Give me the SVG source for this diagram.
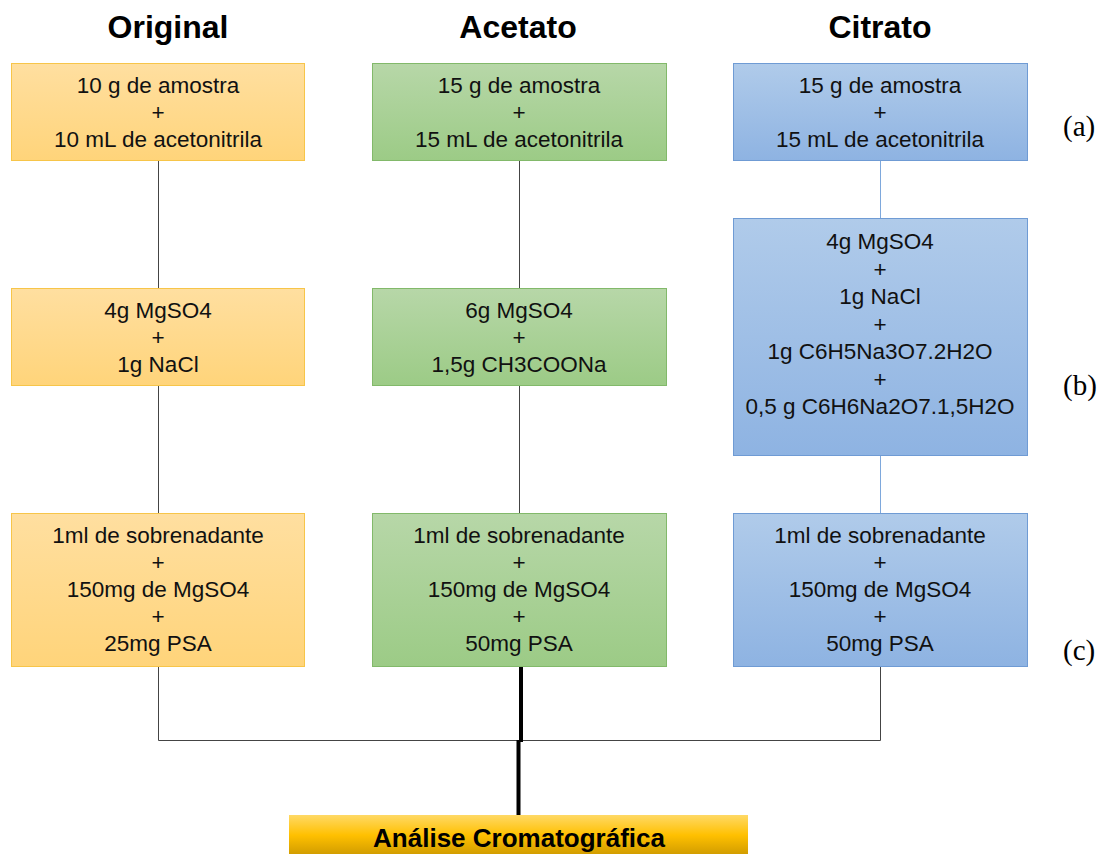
<svg xmlns="http://www.w3.org/2000/svg" width="1106" height="854" viewBox="0 0 1106 854">
<defs>
<linearGradient id="gO" x1="0" y1="0" x2="0" y2="1"><stop offset="0" stop-color="#FFDFA0"/><stop offset="1" stop-color="#FFD47A"/></linearGradient>
<linearGradient id="gG" x1="0" y1="0" x2="0" y2="1"><stop offset="0" stop-color="#B7D7A8"/><stop offset="1" stop-color="#9CCB86"/></linearGradient>
<linearGradient id="gB" x1="0" y1="0" x2="0" y2="1"><stop offset="0" stop-color="#B0CBEA"/><stop offset="1" stop-color="#8EB3E2"/></linearGradient>
<linearGradient id="gY" x1="0" y1="0" x2="0" y2="1"><stop offset="0" stop-color="#FFD966"/><stop offset="0.45" stop-color="#FFC000"/><stop offset="1" stop-color="#C49200"/></linearGradient>
</defs>
<style>
.t{font-family:"Liberation Sans",Arial,sans-serif;font-size:22.5px;fill:#111;text-anchor:middle}
.h{font-family:"Liberation Sans",Arial,sans-serif;font-size:32px;font-weight:bold;fill:#000;text-anchor:middle}
.l{font-family:"Liberation Serif","Times New Roman",serif;font-size:29px;fill:#000}
.o{fill:url(#gO);stroke:#F7C549;stroke-width:1}
.g{fill:url(#gG);stroke:#82B96A;stroke-width:1}
.b{fill:url(#gB);stroke:#6F9BD4;stroke-width:1}
.c{fill:none;stroke:#444;stroke-width:1}
</style>
<text class="h" x="168" y="38">Original</text>
<text class="h" x="518" y="38">Acetato</text>
<text class="h" x="880" y="38">Citrato</text>
<g id="connectors">
<path class="c" d="M158.5 160V288M158.5 385V513M158.5 666V740.5H880.5V666"/>
<path class="c" d="M519.5 160V288M519.5 385V513"/>
<path d="M880.5 160V218M880.5 455V513" fill="none" stroke="#7EA8DC" stroke-width="1"/>
<path d="M521 666V742M518.5 740V815" fill="none" stroke="#000" stroke-width="4"/>
</g>
<g id="o1"><rect class="o" x="11.5" y="63.5" width="293" height="97"/><text class="t" x="158" y="93">10 g de amostra</text><text class="t" x="158" y="120">+</text><text class="t" x="158" y="147">10 mL de acetonitrila</text></g>
<g id="a1"><rect class="g" x="372.5" y="63.5" width="294" height="97"/><text class="t" x="519" y="93">15 g de amostra</text><text class="t" x="519" y="120">+</text><text class="t" x="519" y="147">15 mL de acetonitrila</text></g>
<g id="c1"><rect class="b" x="733.5" y="63.5" width="294" height="97"/><text class="t" x="880" y="93">15 g de amostra</text><text class="t" x="880" y="120">+</text><text class="t" x="880" y="147">15 mL de acetonitrila</text></g>
<g id="o2"><rect class="o" x="11.5" y="288.5" width="293" height="97"/><text class="t" x="158" y="318">4g MgSO4</text><text class="t" x="158" y="345">+</text><text class="t" x="158" y="372">1g NaCl</text></g>
<g id="a2"><rect class="g" x="372.5" y="288.5" width="294" height="97"/><text class="t" x="519" y="318">6g MgSO4</text><text class="t" x="519" y="345">+</text><text class="t" x="519" y="372">1,5g CH3COONa</text></g>
<g id="c2"><rect class="b" x="733.5" y="218.5" width="294" height="237"/><text class="t" x="880" y="249">4g MgSO4</text><text class="t" x="880" y="276.5">+</text><text class="t" x="880" y="304">1g NaCl</text><text class="t" x="880" y="331.5">+</text><text class="t" x="880" y="359">1g C6H5Na3O7.2H2O</text><text class="t" x="880" y="386.5">+</text><text class="t" x="880" y="414">0,5 g C6H6Na2O7.1,5H2O</text></g>
<g id="o3"><rect class="o" x="11.5" y="513.5" width="293" height="153"/><text class="t" x="158" y="543">1ml de sobrenadante</text><text class="t" x="158" y="570">+</text><text class="t" x="158" y="597">150mg de MgSO4</text><text class="t" x="158" y="624">+</text><text class="t" x="158" y="651">25mg PSA</text></g>
<g id="a3"><rect class="g" x="372.5" y="513.5" width="294" height="153"/><text class="t" x="519" y="543">1ml de sobrenadante</text><text class="t" x="519" y="570">+</text><text class="t" x="519" y="597">150mg de MgSO4</text><text class="t" x="519" y="624">+</text><text class="t" x="519" y="651">50mg PSA</text></g>
<g id="c3"><rect class="b" x="733.5" y="513.5" width="294" height="153"/><text class="t" x="880" y="543">1ml de sobrenadante</text><text class="t" x="880" y="570">+</text><text class="t" x="880" y="597">150mg de MgSO4</text><text class="t" x="880" y="624">+</text><text class="t" x="880" y="651">50mg PSA</text></g>
<g id="final"><rect x="289" y="815" width="459" height="45" fill="url(#gY)"/><text x="519" y="847" font-family="Liberation Sans,Arial,sans-serif" font-size="26" font-weight="bold" text-anchor="middle" fill="#000">Análise Cromatográfica</text></g>
<text class="l" x="1063" y="136">(a)</text>
<text class="l" x="1063" y="395">(b)</text>
<text class="l" x="1063" y="660">(c)</text>
</svg>
